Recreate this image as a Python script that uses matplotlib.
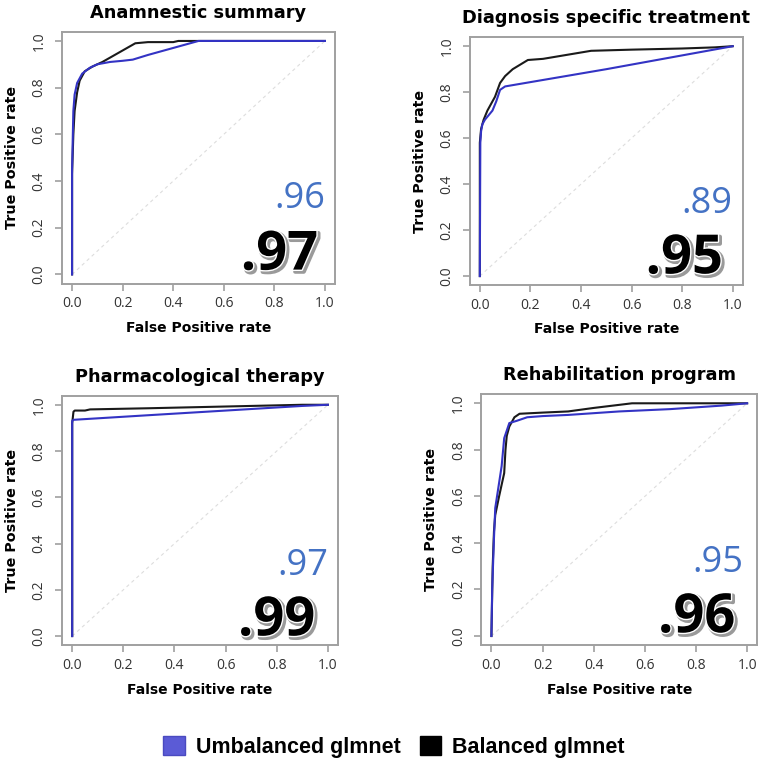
import matplotlib
matplotlib.use('Agg')
import matplotlib.pyplot as plt
import matplotlib.patheffects as pe
from matplotlib.patches import Patch

# panel titles and AUC values
titles = ['Anamnestic summary', 'Diagnosis specific treatment',
          'Pharmacological therapy', 'Rehabilitation program']
auc_unbal = ['.96', '.89', '.97', '.95']
auc_bal = ['.97', '.95', '.99', '.96']

# ROC curves (fpr, tpr), unbalanced glmnet
unbal_fpr = [
    [0, 0, 0.003, 0.005, 0.01, 0.02, 0.04, 0.07, 0.1, 0.15, 0.2, 0.24, 0.3, 0.4, 0.5, 1.0],
    [0, 0, 0.002, 0.005, 0.01, 0.02, 0.05, 0.065, 0.08, 0.1, 0.5, 0.95, 1.0],
    [0, 0, 0.005, 0.3, 0.6, 0.9, 1.0],
    [0, 0.003, 0.01, 0.015, 0.04, 0.05, 0.07, 0.1, 0.14, 0.2, 0.3, 0.5, 0.7, 0.9, 1.0],
]
unbal_tpr = [
    [0, 0.45, 0.6, 0.7, 0.77, 0.82, 0.86, 0.885, 0.9, 0.91, 0.915, 0.92, 0.94, 0.97, 1.0, 1.0],
    [0, 0.02, 0.58, 0.63, 0.66, 0.68, 0.72, 0.76, 0.81, 0.825, 0.9, 0.99, 1.0],
    [0, 0.93, 0.935, 0.955, 0.975, 0.995, 1.0],
    [0, 0.2, 0.42, 0.55, 0.73, 0.85, 0.915, 0.925, 0.94, 0.945, 0.95, 0.965, 0.975, 0.99, 1.0],
]

# balanced glmnet
bal_fpr = [
    [0, 0, 0.005, 0.01, 0.02, 0.03, 0.05, 0.08, 0.12, 0.25, 0.3, 0.4, 0.42, 1.0],
    [0, 0, 0.005, 0.015, 0.03, 0.06, 0.08, 0.1, 0.13, 0.19, 0.25, 0.44, 0.6, 0.8, 0.93, 1.0],
    [0, 0, 0.005, 0.01, 0.05, 0.07, 0.3, 0.5, 0.7, 0.9, 1.0],
    [0, 0.005, 0.01, 0.015, 0.03, 0.05, 0.055, 0.06, 0.07, 0.09, 0.11, 0.2, 0.3, 0.4, 0.55, 1.0],
]
bal_tpr = [
    [0, 0.43, 0.6, 0.7, 0.78, 0.83, 0.87, 0.89, 0.91, 0.99, 0.995, 0.995, 1.0, 1.0],
    [0, 0.58, 0.64, 0.68, 0.72, 0.78, 0.84, 0.87, 0.9, 0.94, 0.945, 0.98, 0.985, 0.99, 0.995, 1.0],
    [0, 0.92, 0.97, 0.975, 0.975, 0.98, 0.985, 0.99, 0.995, 1.0, 1.0],
    [0, 0.3, 0.45, 0.52, 0.6, 0.7, 0.8, 0.86, 0.9, 0.94, 0.955, 0.96, 0.965, 0.98, 1.0, 1.0],
]

ticks = [0.0, 0.2, 0.4, 0.6, 0.8, 1.0]
tick_labels = ['0.0', '0.2', '0.4', '0.6', '0.8', '1.0']

# axes boxes in figure fractions [left, bottom, width, height]
boxes = [
    [0.081, 0.632, 0.357, 0.327],
    [0.614, 0.630, 0.357, 0.322],
    [0.081, 0.163, 0.361, 0.324],
    [0.629, 0.163, 0.361, 0.326],
]
# AUC text anchors (axes fraction), black then blue
bal_pos = [(0.938, 0.056), (0.927, 0.048), (0.917, 0.040), (0.920, 0.052)]
unbal_pos = [(0.963, 0.30), (0.963, 0.29), (0.964, 0.28), (0.949, 0.29)]

blue_line = '#3333c4'
spine_col = '#a0a0a0'

fig = plt.figure(figsize=(7.65, 7.71), dpi=100)

for i in range(4):
    ax = fig.add_axes(boxes[i])
    ax.plot([0, 1], [0, 1], color='#dddddd', lw=0.8, ls=(0, (3, 3)))
    ax.plot(bal_fpr[i], bal_tpr[i], color='#1a1a1a', lw=1.5)
    ax.plot(unbal_fpr[i], unbal_tpr[i], color=blue_line, lw=1.5)
    ax.set_xlim(-0.04, 1.04)
    ax.set_ylim(-0.04, 1.04)

    ax.set_xticks(ticks)
    ax.set_xticklabels(tick_labels, fontfamily='Open Sans', fontsize=10, color='#333333')
    ax.set_yticks(ticks)
    ax.set_yticklabels(tick_labels, fontfamily='Open Sans', fontsize=10, color='#333333',
                       rotation=90, va='center')
    ax.tick_params(axis='both', length=5, width=1.2, color=spine_col)
    ax.tick_params(axis='x', pad=4)
    ax.tick_params(axis='y', pad=6)
    for s in ax.spines.values():
        s.set_color(spine_col)
        s.set_linewidth(1.4)

    ax.set_xlabel('False Positive rate', fontfamily='DejaVu Sans', fontweight='bold',
                  fontsize=10, labelpad=7)
    ax.set_ylabel('True Positive rate', fontfamily='DejaVu Sans', fontweight='bold',
                  fontsize=10.3, labelpad=9)
    ax.set_title(titles[i], fontfamily='DejaVu Sans', fontweight='bold', fontsize=12.8, pad=10)

    ax.text(unbal_pos[i][0], unbal_pos[i][1], auc_unbal[i], transform=ax.transAxes,
            ha='right', va='baseline', fontfamily='Open Sans', fontsize=26, color='#4472c4')
    ax.text(bal_pos[i][0], bal_pos[i][1], auc_bal[i], transform=ax.transAxes,
            ha='right', va='baseline', fontfamily='Open Sans', fontweight='bold', fontsize=39,
            color='black',
            path_effects=[pe.Stroke(linewidth=3, foreground='#9a9a9a', offset=(1.5, -1.5)),
                          pe.Stroke(linewidth=2, foreground='white'),
                          pe.Normal()])

handles = [Patch(facecolor='#5b5bd6', edgecolor='#4a4ac0', label='Umbalanced glmnet'),
           Patch(facecolor='black', edgecolor='black', label='Balanced glmnet')]
fig.legend(handles=handles, loc='center', bbox_to_anchor=(0.515, 0.031), ncol=2,
           frameon=False, handlelength=1.0, handleheight=1.0, handletextpad=0.5,
           columnspacing=0.9,
           prop={'family': 'Liberation Sans', 'weight': 'bold', 'size': 15.5})

fig.savefig('out.png', dpi=100)
